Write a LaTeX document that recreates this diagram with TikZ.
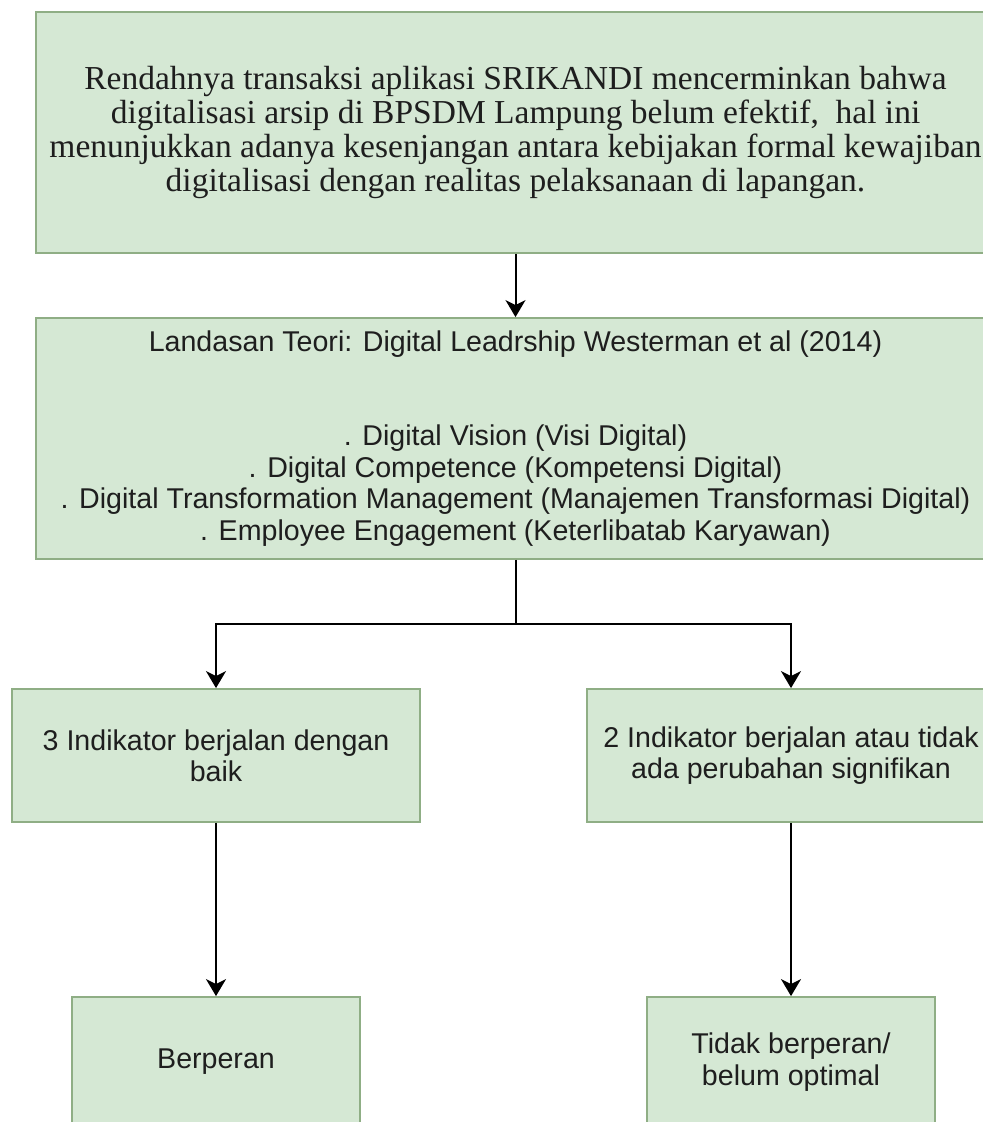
\documentclass[tikz,border=0pt]{standalone}
\usepackage{fontspec}
\setmainfont{Liberation Serif}
\newfontfamily\arialfont{Liberation Sans}
\usetikzlibrary{arrows.meta}
\definecolor{hijau}{HTML}{D5E8D4}
\definecolor{garis}{HTML}{8FAE85}
\definecolor{teks}{HTML}{1E1E1E}

\begin{document}
\begin{tikzpicture}[x=0.5pt, y=-0.5pt,
    kotak/.style={draw=garis, fill=hijau, line width=0.9pt, align=center, text=teks, inner sep=0pt},
    huruf/.style={font=\arialfont\fontsize{14.3}{15.7}\selectfont},
    panah/.style={-{Stealth[length=8.5pt, width=10pt, inset=2.5pt]}, line width=1pt}]
    \useasboundingbox (0,0) rectangle (983,1122);
    \clip (0,0) rectangle (983,1122);

    % kotak-kotak
    \node[kotak, minimum width=479.5pt, minimum height=120.5pt, font=\fontsize{16.75}{17}\selectfont] (masalah) at (515.5, 132.5)
        {Rendahnya transaksi aplikasi SRIKANDI mencerminkan bahwa\\
         digitalisasi arsip di BPSDM Lampung belum efektif,~ hal ini\\
         menunjukkan adanya kesenjangan antara kebijakan formal kewajiban\\
         digitalisasi dengan realitas pelaksanaan di lapangan.};
    \node[kotak, huruf, minimum width=479.5pt, minimum height=120.5pt] (teori) at (515.5, 438.5)
        {Landasan Teori: Digital Leadrship Westerman et al (2014)\\[31.4pt]
         . Digital Vision (Visi Digital)\\
         . Digital Competence (Kompetensi Digital)\\
         . Digital Transformation Management (Manajemen Transformasi Digital)\\
         . Employee Engagement (Keterlibatab Karyawan)};
    \node[kotak, huruf, minimum width=204pt, minimum height=66.5pt] (baik) at (216, 755.5)
        {3 Indikator berjalan dengan\\ baik};
    \node[kotak, huruf, minimum width=204pt, minimum height=66.5pt] (kurang) at (791, 755.5)
        {2 Indikator berjalan atau tidak\\ ada perubahan signifikan};
    \node[kotak, huruf, minimum width=144pt, minimum height=65pt] (berperan) at (216, 1062) {Berperan};
    \node[kotak, huruf, minimum width=144pt, minimum height=65pt] (belum) at (791, 1062)
        {Tidak berperan/\\ belum optimal};

    % panah
    \coordinate (cabang) at (515.5, 624);
    \draw[panah] (masalah) -- (teori);
    \draw[line width=1pt] (teori) -- (cabang);
    \draw[panah] (cabang) -| (baik);
    \draw[panah] (cabang) -| (kurang);
    \draw[panah] (baik) -- (berperan);
    \draw[panah] (kurang) -- (belum);
\end{tikzpicture}
\end{document}
